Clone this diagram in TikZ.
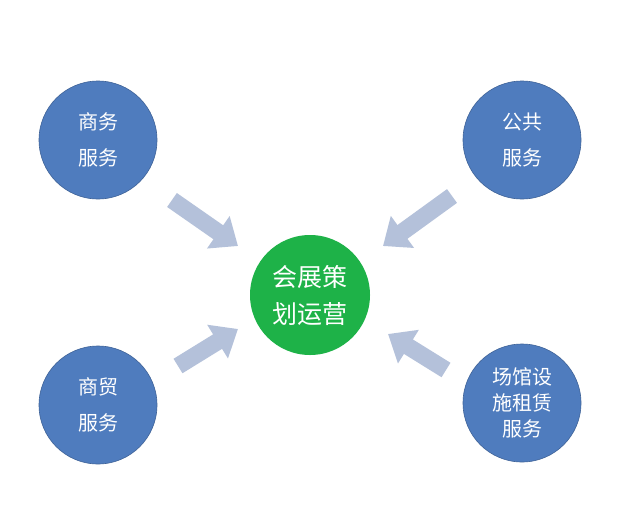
\documentclass[tikz,border=0pt]{standalone}
\usepackage{fontspec}
\newfontfamily\cjk{Noto Sans CJK SC}
\usetikzlibrary{arrows.meta}
\definecolor{bluec}{RGB}{79,124,190}
\definecolor{greenc}{RGB}{30,178,72}
\definecolor{arrc}{RGB}{180,193,218}
\tikzset{
 outer/.style={circle,fill=bluec,draw=bluec!80!black,line width=0.6pt,minimum size=118pt,inner sep=0pt,text=white,align=center,font=\cjk\fontsize{20pt}{36pt}\selectfont},
 outerthree/.style={outer,font=\cjk\fontsize{20pt}{26pt}\selectfont},
 center/.style={circle,fill=greenc,minimum size=120pt,inner sep=0pt,text=white,align=center,font=\cjk\fontsize{25pt}{37pt}\selectfont},
 blockarrow/.style={draw=arrc,line width=17pt,-{Triangle[width=38pt,length=24pt]}}
}
\begin{document}
\begin{tikzpicture}[x=1pt,y=-1pt]
\fill[white] (0,0) rectangle (620,509);
\useasboundingbox (0,0) rectangle (620,509);
\node[outer] (tl) at (98,140) {商务\\服务};
\node[outer] (tr) at (522,140) {公共\\服务};
\node[outer] (bl) at (98,405) {商贸\\服务};
\node[outerthree] (br) at (522,403) {场馆设\\施租赁\\服务};
\node[center] (c) at (310,295) {会展策\\划运营};
\coordinate (a1s) at (172,200); \coordinate (a1e) at (238,246);
\coordinate (a2s) at (452,196); \coordinate (a2e) at (383,246);
\coordinate (a3s) at (178,366); \coordinate (a3e) at (238,329);
\coordinate (a4s) at (446,370); \coordinate (a4e) at (388,334);
\draw[blockarrow] (a1s) -- (a1e);
\draw[blockarrow] (a2s) -- (a2e);
\draw[blockarrow] (a3s) -- (a3e);
\draw[blockarrow] (a4s) -- (a4e);
\end{tikzpicture}
\end{document}
